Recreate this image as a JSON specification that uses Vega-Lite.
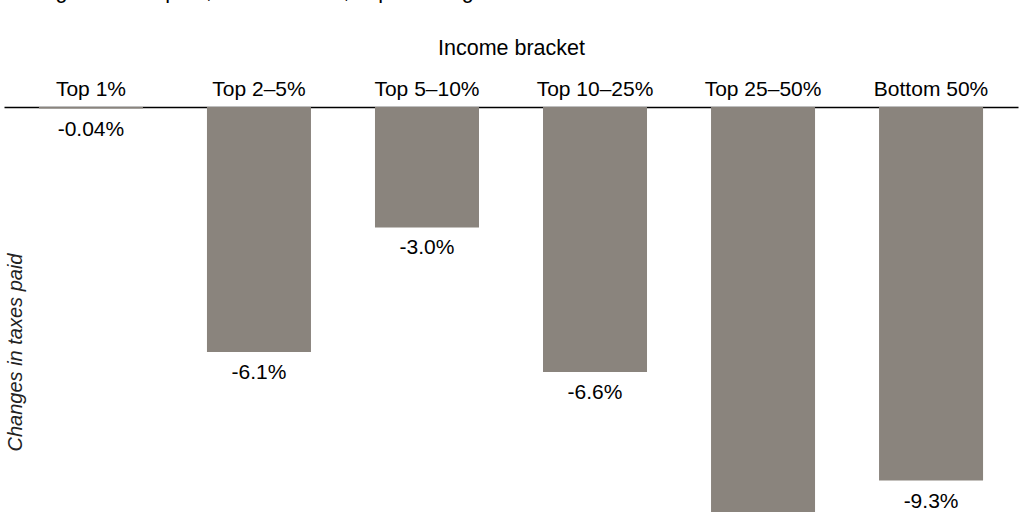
{
  "$schema": "https://vega.github.io/schema/vega-lite/v6.json",
  "autosize": {"type": "none"},
  "padding": {"left": 4, "top": 107, "right": 6, "bottom": 0},
  "width": 1014,
  "height": 490,
  "background": "white",
  "title": {
    "text": "Change in taxes paid, 2017 to 2018, in percentage terms",
    "anchor": "start",
    "fontSize": 21.5,
    "fontWeight": "normal",
    "font": "Liberation Sans",
    "color": "#000000",
    "baseline": "alphabetic",
    "offset": 17.5
  },
  "data": {
    "values": [
      {"bracket": "Top 1%", "change": -0.04, "label": "-0.04%"},
      {"bracket": "Top 2–5%", "change": -6.1, "label": "-6.1%"},
      {"bracket": "Top 5–10%", "change": -3.0, "label": "-3.0%"},
      {"bracket": "Top 10–25%", "change": -6.6, "label": "-6.6%"},
      {"bracket": "Top 25–50%", "change": -10.6, "label": "-10.6%"},
      {"bracket": "Bottom 50%", "change": -9.3, "label": "-9.3%"}
    ]
  },
  "encoding": {
    "x": {
      "field": "bracket",
      "type": "nominal",
      "sort": null,
      "title": "Income bracket",
      "scale": {"paddingInner": 0.381, "paddingOuter": 0.208},
      "axis": {
        "orient": "top",
        "labelAngle": 0,
        "ticks": false,
        "domainColor": "#000000",
        "domainWidth": 1.5,
        "labelFont": "Liberation Sans",
        "labelFontSize": 21,
        "labelColor": "#000000",
        "labelPadding": 8,
        "titleFont": "Liberation Sans",
        "titleFontSize": 21.5,
        "titleFontWeight": "normal",
        "titleColor": "#000000",
        "titlePadding": 19
      }
    },
    "y": {
      "field": "change",
      "type": "quantitative",
      "scale": {"domain": [-12.2, 0], "nice": false},
      "title": "Changes in taxes paid",
      "axis": {
        "orient": "left",
        "labels": false,
        "ticks": false,
        "domain": false,
        "grid": false,
        "titleFont": "Liberation Sans",
        "titleFontSize": 20,
        "titleFontStyle": "italic",
        "titleFontWeight": "normal",
        "titleColor": "#222222",
        "titleAngle": 270,
        "titleBaseline": "middle",
        "titleX": 11,
        "titleY": 245
      }
    }
  },
  "layer": [
    {"mark": {"type": "bar", "color": "#8a847d"}},
    {
      "mark": {
        "type": "text",
        "baseline": "top",
        "dy": 10,
        "font": "Liberation Sans",
        "fontSize": 21,
        "color": "#000000"
      },
      "encoding": {"text": {"field": "label"}}
    }
  ],
  "config": {"view": {"stroke": null}}
}
